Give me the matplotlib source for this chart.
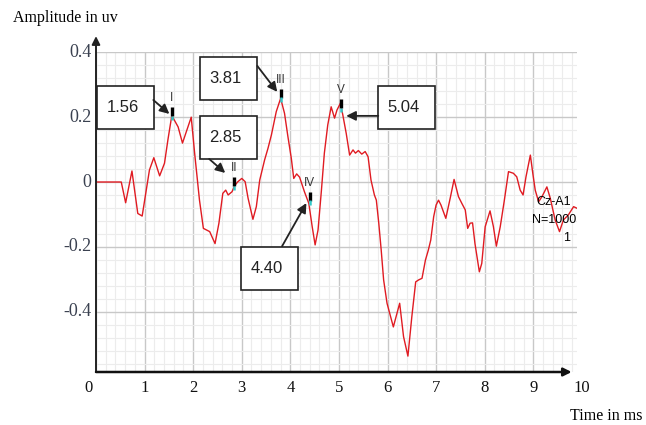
import numpy as np
import matplotlib
matplotlib.use("Agg")
import matplotlib.pyplot as plt
from matplotlib.patches import Rectangle
from matplotlib.ticker import MultipleLocator

# waveform (time in ms, amplitude in uv)
time_ms = [0.0, 0.52, 0.61, 0.74, 0.86, 0.95, 1.10, 1.19, 1.31, 1.41, 1.48, 1.56,
           1.69, 1.78, 1.96, 2.03, 2.13, 2.21, 2.34, 2.45, 2.53, 2.61, 2.67, 2.72,
           2.80, 2.85, 2.92, 3.00, 3.07, 3.13, 3.23, 3.30, 3.37, 3.47, 3.54, 3.61,
           3.71, 3.80, 3.88, 3.95, 4.02, 4.07, 4.13, 4.19, 4.29, 4.38, 4.45, 4.51,
           4.57, 4.64, 4.70, 4.77, 4.84, 4.91, 4.96, 5.03, 5.08, 5.15, 5.22, 5.29,
           5.34, 5.40, 5.47, 5.54, 5.60, 5.66, 5.73, 5.77, 5.82, 5.87, 5.92, 5.99,
           6.12, 6.25, 6.33, 6.42, 6.50, 6.58, 6.64, 6.71, 6.78, 6.84, 6.89, 6.95,
           7.00, 7.05, 7.10, 7.20, 7.29, 7.37, 7.46, 7.53, 7.60, 7.65, 7.70, 7.75,
           7.80, 7.89, 7.94, 8.01, 8.11, 8.18, 8.24, 8.32, 8.40, 8.49, 8.59, 8.66,
           8.73, 8.79, 8.85, 8.94, 8.99, 9.04, 9.11, 9.18, 9.28, 9.35, 9.45, 9.54,
           9.62, 9.72, 9.83, 9.90]
amplitude = [0.0, 0.0, -0.064, 0.034, -0.097, -0.105, 0.037, 0.075, 0.019, 0.058, 0.13, 0.205,
             0.17, 0.12, 0.20, 0.089, -0.056, -0.143, -0.153, -0.19, -0.127, -0.035, -0.025, -0.04,
             -0.03, -0.012, 0.001, 0.011, 0.001, -0.05, -0.115, -0.076, 0.006, 0.068, 0.104, 0.145,
             0.217, 0.258, 0.212, 0.14, 0.073, 0.011, 0.025, 0.015, -0.03, -0.066, -0.138, -0.194,
             -0.148, -0.025, 0.089, 0.176, 0.232, 0.197, 0.222, 0.243, 0.207, 0.15, 0.083, 0.099,
             0.089, 0.097, 0.086, 0.094, 0.078, 0.006, -0.04, -0.056, -0.127, -0.21, -0.302, -0.374,
             -0.447, -0.374, -0.477, -0.537, -0.416, -0.308, -0.302, -0.297, -0.241, -0.21, -0.179, -0.107,
             -0.071, -0.056, -0.071, -0.112, -0.05, 0.008, -0.045, -0.066, -0.086, -0.143, -0.127, -0.126,
             -0.19, -0.277, -0.251, -0.138, -0.089, -0.138, -0.198, -0.138, -0.061, 0.032, 0.027, 0.016,
             -0.025, -0.04, 0.016, 0.083, 0.027, -0.025, -0.061, -0.045, -0.015, -0.05, -0.117, -0.153,
             -0.117, -0.102, -0.076, -0.081]

# wave peaks
peak_names = ["I", "II", "III", "IV", "V"]
peak_x = [1.56, 2.85, 3.81, 4.40, 5.04]
peak_y = [0.191, -0.025, 0.248, -0.071, 0.215]
peak_text = ["1.56", "2.85", "3.81", "4.40", "5.04"]

x_ticks = [0, 1, 2, 3, 4, 5, 6, 7, 8, 9, 10]
y_ticks = [0.4, 0.2, 0, -0.2, -0.4]
y_tick_labels = ["0.4", "0.2", "0", "-0.2", "-0.4"]

serif = "Liberation Serif"
sans = "Liberation Sans"

fig = plt.figure(figsize=(6.46, 4.25), dpi=100)
ax = fig.add_axes([96/646, 53/425, 481/646, 320/425])
ymin, ymax = -0.586, 0.401
ax.set_xlim(0, 9.9)
ax.set_ylim(ymin, ymax)

ax.xaxis.set_major_locator(MultipleLocator(1))
ax.xaxis.set_minor_locator(MultipleLocator(0.2))
ax.yaxis.set_major_locator(MultipleLocator(0.2))
ax.yaxis.set_minor_locator(MultipleLocator(0.04))
ax.grid(which="minor", color="#ececec", lw=0.8)
ax.grid(which="major", color="#c8c8c8", lw=1.0)
ax.set_axisbelow(True)
ax.tick_params(which="both", length=0, labelbottom=False, labelleft=False)
for s in ax.spines.values():
    s.set_visible(False)

ax.plot(time_ms, amplitude, color="#e01b22", lw=1.0, zorder=3)

# axis arrows
ax.annotate("", xy=(0, 0.45), xytext=(0, ymin), annotation_clip=False,
            arrowprops=dict(arrowstyle="-|>", color="#222222", lw=1.4, mutation_scale=12,
                            shrinkA=0, shrinkB=0), zorder=4)
ax.annotate("", xy=(9.79, ymin), xytext=(0, ymin), annotation_clip=False,
            arrowprops=dict(arrowstyle="-|>", color="#111111", lw=1.8, mutation_scale=12,
                            shrinkA=0, shrinkB=0), zorder=4)

# tick labels
for t in x_ticks:
    ax.text(t if t else -0.16, -0.635, str(t), ha="center", va="center",
            fontsize=12, family=serif, color="#111111", clip_on=False)
for t, lab in zip(y_ticks, y_tick_labels):
    ax.text(-0.1, t, lab, ha="right", va="center", fontsize=13,
            family=serif, color="#3a4150", clip_on=False)

fig.text(13/646, 1 - 18/425, "Amplitude in uv", ha="left", va="center",
         fontsize=11.5, family=serif)
fig.text(570/646, 1 - 416/425, "Time in ms", ha="left", va="center",
         fontsize=11.5, family=serif)

# peak markers
for name, px, py in zip(peak_names, peak_x, peak_y):
    ax.plot([px, px], [py + 0.012, py + 0.04], color="black", lw=2.4,
            solid_capstyle="butt", zorder=5)
    ax.plot([px, px], [py, py + 0.014], color="#30c8c8", lw=1.8,
            solid_capstyle="butt", zorder=6)
    ax.text(px, py + 0.068, name, ha="center", va="center", fontsize=8.5,
            family=sans, color="#333333", zorder=6)

# value boxes (left, bottom) and arrows
box_w, box_h = 1.17, 0.133
box_corner = [(0.03, 0.164), (2.15, 0.071), (2.15, 0.252), (2.99, -0.333), (5.81, 0.164)]
arrow_tail = [(1.18, 0.253), (2.33, 0.071), (3.32, 0.358), (3.83, -0.198), (5.81, 0.204)]
arrow_tip = [(1.51, 0.21), (2.66, 0.028), (3.73, 0.278), (4.33, -0.065), (5.15, 0.204)]
for txt, (bx, by), tail, tip in zip(peak_text, box_corner, arrow_tail, arrow_tip):
    ax.add_patch(Rectangle((bx, by), box_w, box_h, fc="white", ec="#222222",
                           lw=1.2, zorder=7, clip_on=False))
    ax.text(bx + box_w / 2 - 0.07, by + box_h / 2, txt, ha="center", va="center",
            fontsize=12, family=sans, color="#222222", zorder=8)
    ax.annotate("", xy=tip, xytext=tail,
                arrowprops=dict(arrowstyle="-|>", color="#222222", lw=1.3,
                                mutation_scale=14, shrinkA=0, shrinkB=0), zorder=8)

# channel info
ax.text(9.43, -0.062, "Cz-A1", ha="center", va="center", fontsize=9, family=sans, zorder=6)
ax.text(9.43, -0.117, "N=1000", ha="center", va="center", fontsize=9, family=sans, zorder=6)
ax.text(9.68, -0.172, "1", ha="center", va="center", fontsize=9, family=sans, zorder=6)

fig.savefig("out.png", dpi=100)
